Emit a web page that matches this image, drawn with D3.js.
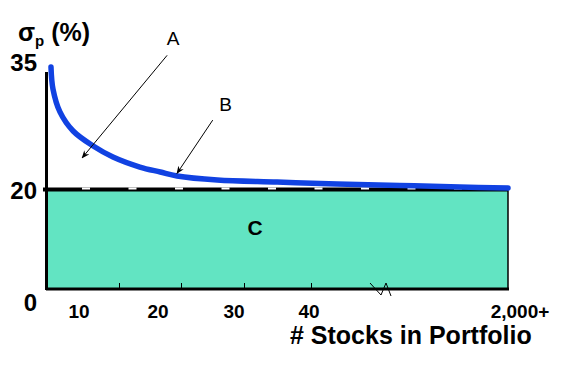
<!DOCTYPE html>
<meta charset="utf-8">
<style>
body { margin:0; background:#fff; }
svg text { font-family:"Liberation Sans", Arial, sans-serif; fill:#000; }
</style>
<body>
<script src="https://cdn.jsdelivr.net/npm/d3@7"></script>
<script>

var width = 567,
    height = 366;

// curve of portfolio risk vs number of stocks
var stocks = [2.36, 2.9, 4.8, 8.4, 11.8, 14.3, 17.7, 20.3, 22.5, 27.8, 35.6, 300, 925, 1520, 2000];
var sigma  = [34.88, 32.2, 29.4, 27.07, 25.24, 23.9, 22.68, 22.07, 21.59, 21.1, 20.85, 20.61, 20.43, 20.24, 20.12];

var xLabelValues = [10, 20, 30, 40, 2000];
var xLabelText   = ["10", "20", "30", "40", "2,000+"];
var xTickValues  = [15, 23, 31.3, 40];
var yLabelValues = [0, 20, 35];
var marketRisk = 20;

// annotations: [label, labelStocks, labelSigma, fromStocks, fromSigma, toStocks, toSigma]
var notes = [
    ["A", 22, 37.6, 21.2, 36.3, 10.4, 23.8],
    ["B", 28.9, 29.5, 27.2, 28.4, 22.5, 21.9]
];

// schematic (broken) axes, so piecewise scales
var x = d3.scaleLinear()
    .domain([1, 10, 20, 30, 40, 2000])
    .range([46, 79, 158, 234, 311, 508]);

var y = d3.scaleLinear()
    .domain([0, 20, 35])
    .range([289, 189, 66]);

var svg = d3.select("body").append("svg")
    .attr("width", width)
    .attr("height", height);

var defs = svg.append("defs");
defs.append("marker")
    .attr("id", "arrow")
    .attr("viewBox", "0 0 10 10")
    .attr("refX", 9).attr("refY", 5)
    .attr("markerWidth", 8).attr("markerHeight", 8)
    .attr("markerUnits", "userSpaceOnUse")
    .attr("orient", "auto")
    .append("path")
    .attr("d", "M0,1 L10,5 L0,9 L3,5 Z")
    .attr("fill", "#000");

var x0 = x.range()[0], x1 = x.range()[x.range().length - 1];

// area C below market risk
svg.append("rect")
    .attr("x", x0)
    .attr("y", y(marketRisk))
    .attr("width", x1 - x0)
    .attr("height", y(0) - y(marketRisk))
    .attr("fill", "#62e4c2");

svg.append("line")
    .attr("x1", x1).attr("x2", x1)
    .attr("y1", y(marketRisk)).attr("y2", y(0))
    .attr("stroke", "#000").attr("stroke-width", 1.5);

// market risk line with white notches
svg.append("line")
    .attr("x1", x0).attr("x2", x1)
    .attr("y1", y(marketRisk) + 0.5).attr("y2", y(marketRisk) + 0.5)
    .attr("stroke", "#000").attr("stroke-width", 4);
svg.append("line")
    .attr("x1", x0).attr("x2", x1)
    .attr("y1", y(marketRisk) - 0.5).attr("y2", y(marketRisk) - 0.5)
    .attr("stroke", "#fff").attr("stroke-width", 2)
    .attr("stroke-dasharray", "8,38.5")
    .attr("stroke-dashoffset", 10.5);

// y axis
svg.append("line")
    .attr("x1", x0 + 0.5).attr("x2", x0 + 0.5)
    .attr("y1", 72).attr("y2", y(0) + 1)
    .attr("stroke", "#000").attr("stroke-width", 3);
svg.append("line")
    .attr("x1", x0 - 3).attr("x2", x0)
    .attr("y1", y(marketRisk) + 0.5).attr("y2", y(marketRisk) + 0.5)
    .attr("stroke", "#000").attr("stroke-width", 4);

// x axis
svg.append("line")
    .attr("x1", x0).attr("x2", x1 + 1)
    .attr("y1", y(0)).attr("y2", y(0))
    .attr("stroke", "#000").attr("stroke-width", 3);

svg.selectAll(".xtick")
    .data(xTickValues)
    .enter().append("line")
    .attr("class", "xtick")
    .attr("x1", function(d){ return Math.round(x(d)) + 0.5; })
    .attr("x2", function(d){ return Math.round(x(d)) + 0.5; })
    .attr("y1", y(0) - 6).attr("y2", y(0))
    .attr("stroke", "#000").attr("stroke-width", 1);

// axis break
var bx = 381;
svg.append("path")
    .attr("d", d3.line()([[bx - 11, y(0) - 6], [bx, y(0) + 6], [bx + 5, y(0) - 6], [bx + 10, y(0) + 7]]))
    .attr("fill", "none").attr("stroke", "#000").attr("stroke-width", 1);

svg.selectAll(".xlabel")
    .data(xLabelValues)
    .enter().append("text")
    .attr("class", "xlabel")
    .attr("x", function(d, i){ return i == xLabelValues.length - 1 ? x(d) + 12 : [79, 158, 234, 309][i]; })
    .attr("y", 318)
    .attr("text-anchor", "middle")
    .attr("font-size", 19)
    .attr("font-weight", "bold")
    .text(function(d, i){ return xLabelText[i]; });

svg.selectAll(".ylabel")
    .data(yLabelValues)
    .enter().append("text")
    .attr("class", "ylabel")
    .attr("x", 37)
    .attr("y", function(d){ return d == 0 ? y(d) + 22 : y(d) + (d == 35 ? 5 : 10); })
    .attr("text-anchor", "end")
    .attr("font-size", 24)
    .attr("font-weight", "bold")
    .text(function(d){ return d; });

var ttl = svg.append("text")
    .attr("x", 18).attr("y", 41)
    .attr("font-size", 25)
    .attr("font-weight", "bold");
ttl.append("tspan").text("σ");
ttl.append("tspan").attr("font-size", 15).attr("dy", 5).text("p");
ttl.append("tspan").attr("dy", -5).text(" (%)");

svg.append("text")
    .attr("x", 290).attr("y", 344)
    .attr("font-size", 25)
    .attr("font-weight", "bold")
    .text("# Stocks in Portfolio");

// the risk curve
var pts = stocks.map(function(s, i){ return [x(s), y(sigma[i])]; });
svg.append("path")
    .attr("d", d3.line().curve(d3.curveCatmullRom.alpha(0.5))(pts))
    .attr("fill", "none")
    .attr("stroke", "#1142e2")
    .attr("stroke-width", 5.5)
    .attr("stroke-linecap", "round");

// annotations
notes.forEach(function(n){
    svg.append("line")
        .attr("x1", x(n[3])).attr("y1", y(n[4]))
        .attr("x2", x(n[5])).attr("y2", y(n[6]))
        .attr("stroke", "#000").attr("stroke-width", 1)
        .attr("marker-end", "url(#arrow)");
    svg.append("text")
        .attr("x", x(n[1])).attr("y", y(n[2]))
        .attr("text-anchor", "middle")
        .attr("font-size", 19)
        .text(n[0]);
});

svg.append("text")
    .attr("x", 255).attr("y", 235)
    .attr("text-anchor", "middle")
    .attr("font-size", 21)
    .attr("font-weight", "bold")
    .text("C");

</script>
</body>
